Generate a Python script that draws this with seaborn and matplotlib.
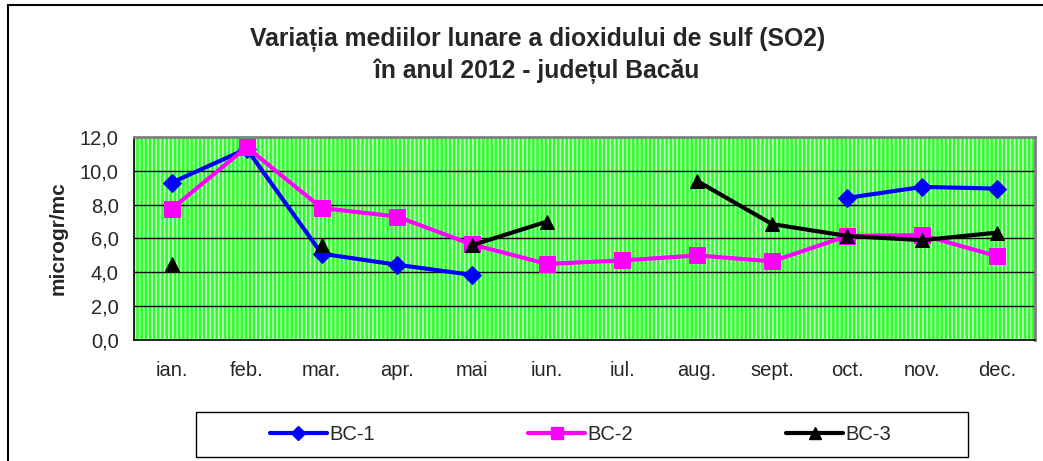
import numpy as np
import pandas as pd
import matplotlib
matplotlib.use("Agg")
import matplotlib.pyplot as plt
import seaborn as sns
from matplotlib.lines import Line2D
from matplotlib.patches import Rectangle
from matplotlib.ticker import FuncFormatter, FixedLocator

months = ["ian.", "feb.", "mar.", "apr.", "mai", "iun.", "iul.", "aug.",
          "sept.", "oct.", "nov.", "dec."]
bc1 = [9.3, 11.3, 5.1, 4.45, 3.85, np.nan, np.nan, np.nan, np.nan, 8.4, 9.05, 8.95]
bc2 = [7.75, 11.4, 7.8, 7.3, 5.65, 4.5, 4.7, 5.0, 4.65, 6.15, 6.2, 4.95]
bc3 = [4.5, np.nan, 5.6, np.nan, 5.6, 7.0, np.nan, 9.4, 6.85, 6.15, 5.9, 6.35]

stations = ["BC-1", "BC-2", "BC-3"]
colors = {"BC-1": "#0000FF", "BC-2": "#FF00FF", "BC-3": "#000000"}
markers = {"BC-1": "D", "BC-2": "s", "BC-3": "^"}
msizes = {"BC-1": 9, "BC-2": 11, "BC-3": 10}

# long table, with a segment id so gaps stay unconnected
rows = []
for name, vals in zip(stations, [bc1, bc2, bc3]):
    seg = 0
    for i, v in enumerate(vals):
        if np.isnan(v):
            seg += 1
            continue
        rows.append({"station": name, "x": i, "value": v, "seg": f"{name}-{seg}"})
df = pd.DataFrame(rows)

sns.set_style("white")
plt.rcParams["font.family"] = ["Liberation Sans", "DejaVu Sans"]
plt.rcParams["hatch.linewidth"] = 1.2

fig = plt.figure(figsize=(10.43, 4.61), dpi=100)
ax = fig.add_axes([0.1285, 0.2625, 0.8638, 0.4403])

ax.patch.set_facecolor("#2AFF2A")
ax.patch.set_edgecolor("#C0FFC0")
ax.patch.set_hatch("||||")
ax.patch.set_linewidth(0)

for y in range(2, 13, 2):
    ax.axhline(y, color="black", lw=1, zorder=1)

for name in stations:
    sub = df[df["station"] == name]
    sns.lineplot(data=sub, x="x", y="value", units="seg", estimator=None,
                 color=colors[name], marker=markers[name], markersize=msizes[name],
                 markeredgecolor=colors[name], linewidth=3, ax=ax, legend=False,
                 zorder=3)

ax.set_xlim(-0.5, 11.5)
ax.set_ylim(0, 12)
ax.set_xticks(range(12))
ax.set_xticklabels(months)
ax.xaxis.set_minor_locator(FixedLocator(np.arange(-0.5, 12, 1)))
ax.tick_params(axis="x", which="major", length=0, labelsize=14.5, pad=15)
ax.tick_params(axis="x", which="minor", length=5, width=1, color="black", direction="out")
ax.set_yticks(range(0, 13, 2))
ax.yaxis.set_major_formatter(FuncFormatter(lambda v, p: f"{v:.1f}".replace(".", ",")))
ax.tick_params(axis="y", length=5, width=1, color="black", direction="out", labelsize=14.5, pad=6)
ax.set_xlabel("")
ax.set_ylabel("microgr/mc", fontsize=15, fontweight="bold", labelpad=9)

for s in ["left", "bottom"]:
    ax.spines[s].set_color("black")
    ax.spines[s].set_linewidth(1.2)
for s in ["top", "right"]:
    ax.spines[s].set_color("#808080")
    ax.spines[s].set_linewidth(2)

fig.text(0.515, 0.915, "Variația mediilor lunare a dioxidului de sulf (SO2)",
         ha="center", va="center", fontsize=17.8, fontweight="bold")
fig.text(0.515, 0.845, "în anul 2012 - județul Bacău",
         ha="center", va="center", fontsize=17.8, fontweight="bold")

handles = [Line2D([], [], color=colors[n], marker=markers[n], lw=3,
                  markersize=msizes[n] - 2, markeredgecolor=colors[n]) for n in stations]
leg = fig.legend(handles, stations, loc="center", bbox_to_anchor=(0.557, 0.0575),
                 ncol=3, frameon=False, fontsize=14.5,
                 handlelength=2.8, handletextpad=0.15, columnspacing=7.6)

# legend frame (wider than the entries, as in the original)
fig.patches.append(Rectangle((196 / 1043, 1 - 457 / 461), 772 / 1043, 45 / 461,
                             transform=fig.transFigure, fill=False,
                             edgecolor="black", lw=1))

fig.patches.append(Rectangle((8 / 1043, -0.02), 1.1, 1 - 5 / 461 + 0.02,
                             transform=fig.transFigure, fill=False,
                             edgecolor="black", lw=1.5))

fig.savefig("out.png", dpi=100)
